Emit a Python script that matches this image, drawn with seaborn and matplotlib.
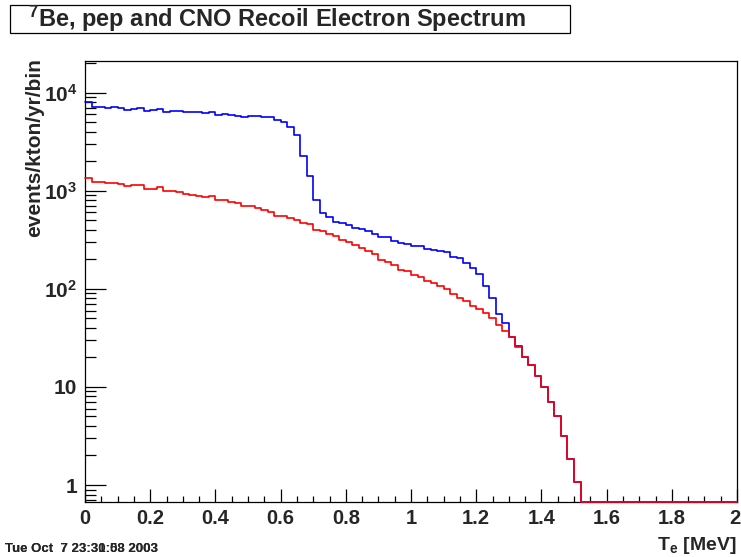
import numpy as np
import matplotlib
matplotlib.use("Agg")
import matplotlib.pyplot as plt
import seaborn as sns
from matplotlib.ticker import FixedLocator, LogLocator, MultipleLocator, NullFormatter, FuncFormatter
from matplotlib.patches import Rectangle

# ---------------- data ----------------
x_range = (0.0, 2.0)
n_bins = 100

# total (7Be + pep + CNO) recoil spectrum, events/kton/yr/bin
total_counts = [
    7970, 7190, 7190, 7020, 7190, 7020, 6690, 6850, 7020, 6540,
    6690, 6850, 6390, 6540, 6540, 6390, 6390, 6390, 6150, 6290,
    5870, 5990, 5870, 5770, 5640, 5820, 5820, 5670, 5670, 5220,
    5030, 4460, 3700, 2260, 1413, 804, 589, 533, 481, 468,
    443, 421, 402, 386, 362, 334, 334, 309, 294, 286,
    275, 275, 256, 248, 243, 236, 212, 206, 185, 164,
    142, 106, 81, 55, 44.5, 32.5, 26.1, 20, 16.9, 13,
    10, 7, 5.1, 3.18, 1.84, 1.08, 0, 0, 0, 0,
    0, 0, 0, 0, 0, 0, 0, 0, 0, 0,
    0, 0, 0, 0, 0, 0, 0, 0, 0, 0,
]

# pep + CNO recoil spectrum
pep_cno_counts = [
    1358, 1237, 1237, 1199, 1199, 1170, 1109, 1143, 1143, 1048,
    1048, 1082, 993, 993, 962, 933, 910, 889, 862, 889,
    798, 798, 773, 755, 698, 698, 668, 640, 605, 558,
    558, 530, 498, 470, 458, 400, 385, 365, 345, 316,
    298, 281, 263, 244, 224, 196, 186, 174, 156, 150,
    139, 131, 121, 114, 107, 99, 88, 81, 75, 67.5,
    62, 56, 50, 43, 37, 32, 25.7, 20, 16.9, 13,
    10, 7, 5.1, 3.18, 1.84, 1.08, 0, 0, 0, 0,
    0, 0, 0, 0, 0, 0, 0, 0, 0, 0,
    0, 0, 0, 0, 0, 0, 0, 0, 0, 0,
]

x_ticks = [0, 0.2, 0.4, 0.6, 0.8, 1.0, 1.2, 1.4, 1.6, 1.8, 2.0]
x_tick_labels = ["0", "0.2", "0.4", "0.6", "0.8", "1", "1.2", "1.4", "1.6", "1.8", "2"]
y_ticks = [1, 10, 100, 1000, 10000]
y_tick_labels = ["1", "10", r"$10^{2}$", r"$10^{3}$", r"$10^{4}$"]

title_text = r"$^{7}$Be, pep and CNO Recoil Electron Spectrum"
x_label = r"T$_{\rm e}$ [MeV]"
y_label = "events/kton/yr/bin"
stamps = ["Tue Oct  7 23:30:58 2003", "Tue Oct  7 23:31:03 2003"]

# ---------------- style ----------------
sns.set_style("white")
plt.rcParams["font.family"] = ["Liberation Sans", "DejaVu Sans"]
plt.rcParams["font.weight"] = "bold"
plt.rcParams["mathtext.fontset"] = "custom"
plt.rcParams["mathtext.rm"] = "Liberation Sans:bold"
plt.rcParams["mathtext.bf"] = "Liberation Sans:bold"
plt.rcParams["mathtext.it"] = "Liberation Sans:bold"
plt.rcParams["mathtext.default"] = "rm"

W, H = 741, 557
fig = plt.figure(figsize=(W / 100, H / 100), dpi=100)
fig.patch.set_facecolor("white")

ax_l, ax_r, ax_t, ax_b = 85, 737, 60.7, 501.7
ax = fig.add_axes([ax_l / W, 1 - ax_b / H, (ax_r - ax_l) / W, (ax_b - ax_t) / H])

y_min, y_max = 0.676, 21100

edges = np.linspace(x_range[0], x_range[1], n_bins + 1)
centers = 0.5 * (edges[:-1] + edges[1:])

def floored(vals):
    v = np.asarray(vals, dtype=float)
    return np.where(v > 0, v, y_min)

sns.histplot(x=centers, weights=floored(total_counts), bins=n_bins, binrange=x_range,
             element="step", fill=False, color="#0000ff", linewidth=1.2, ax=ax,
             zorder=3)
sns.histplot(x=centers, weights=floored(pep_cno_counts), bins=n_bins, binrange=x_range,
             element="step", fill=False, color="#ff0000", linewidth=1.2, ax=ax,
             zorder=3.1)
for ln in ax.lines:
    ln.set_clip_on(False)

ax.set_yscale("log")
ax.set_xlim(*x_range)
ax.set_ylim(y_min, y_max)

# ticks
ax.yaxis.set_major_locator(FixedLocator(y_ticks))
ax.yaxis.set_major_formatter(FuncFormatter(
    lambda v, p: y_tick_labels[y_ticks.index(int(round(v)))] if int(round(v)) in y_ticks else ""))
ax.yaxis.set_minor_locator(LogLocator(base=10, subs=np.arange(2, 10)))
ax.yaxis.set_minor_formatter(NullFormatter())
ax.xaxis.set_major_locator(FixedLocator(x_ticks))
ax.xaxis.set_minor_locator(MultipleLocator(0.05))
# last label ("2") is drawn separately, right-aligned so it stays on the canvas
ax.xaxis.set_major_formatter(FuncFormatter(
    lambda v, p: x_tick_labels[p] if p is not None and p < len(x_tick_labels) - 1 else ""))

ax.tick_params(axis="y", which="major", direction="in", length=14.9, width=0.9,
               left=True, right=False, labelsize=15, pad=5.5, color="black")
ax.tick_params(axis="y", which="minor", direction="in", length=7.7, width=0.9,
               left=True, right=False, color="black")
ax.tick_params(axis="x", which="major", direction="in", length=9.4, width=0.9,
               bottom=True, top=False, labelsize=14.5, pad=5, color="black")
ax.tick_params(axis="x", which="minor", direction="in", length=4.1, width=0.9,
               bottom=True, top=False, color="black")
for lab in ax.get_xticklabels() + ax.get_yticklabels():
    lab.set_fontweight("bold")

ax.text(1.0 + 3.5 / (ax_r - ax_l), -5 * 100 / 72 / (ax_b - ax_t), x_tick_labels[-1],
        transform=ax.transAxes, ha="right", va="top", fontsize=14.5, fontweight="bold",
        clip_on=False)

for s in ax.spines.values():
    s.set_color("black")
    s.set_linewidth(0.9)

ax.set_ylabel(y_label, fontsize=15, fontweight="bold", loc="top")
ax.yaxis.set_label_coords(-0.063, 1.006)
ax.set_xlabel(x_label, fontsize=14, fontweight="bold", loc="right")
ax.xaxis.set_label_coords(1.0, -0.075)

# title box
fig.patches.append(Rectangle((10 / W, 1 - 33 / H), 560 / W, 28 / H, transform=fig.transFigure,
                             fill=True, facecolor="white", edgecolor="black", linewidth=0.9))
fig.text(277 / W, 1 - 19 / H, title_text, fontsize=17, fontweight="bold",
         ha="center", va="center")

# overlapped date stamps
for st in stamps:
    fig.text(5 / W, 1 - 549 / H, st, fontsize=9.5, fontweight="bold", ha="left", va="center")

fig.savefig("out.png", dpi=100, facecolor="white")
